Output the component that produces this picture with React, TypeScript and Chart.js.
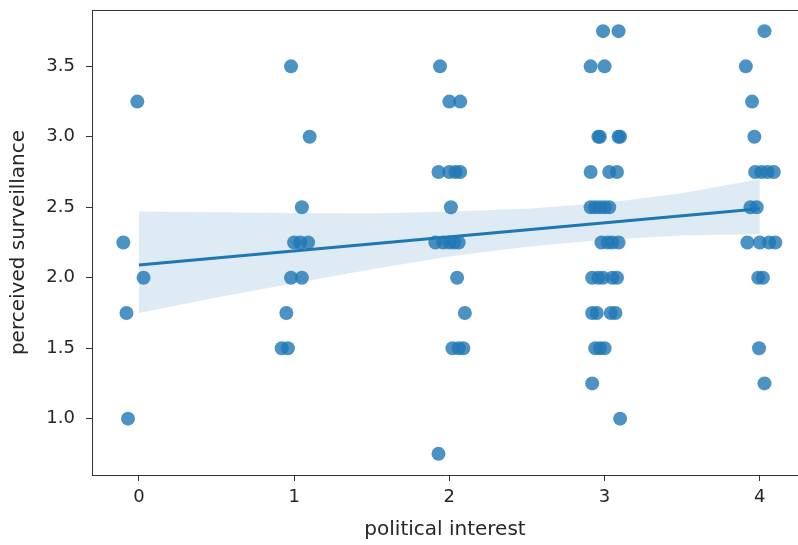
import React, { useEffect, useRef } from "react";
import { Chart, registerables } from "chart.js";

Chart.register(...registerables);

// Jittered political interest (x) and perceived surveillance (y) for each respondent
const pointX = [
  -0.01, -0.10, 0.03, -0.08, -0.07,
  0.98, 1.10, 1.05, 1.0, 1.04, 1.09, 0.98, 1.05, 0.95, 0.92, 0.96,
  1.94, 2.0, 2.07, 1.93, 2.0, 2.04, 2.07, 2.01, 1.91, 1.96, 2.0, 2.03, 2.06, 2.05, 2.10, 2.02, 2.06, 2.09, 1.93,
  2.99, 3.09, 2.91, 3.0, 2.96, 2.97, 3.09, 3.10, 2.91, 3.03, 3.08, 2.91, 2.94, 2.97, 3.0, 3.03, 2.98, 3.02, 3.05, 3.09,
  2.92, 2.96, 2.99, 3.05, 3.08, 2.92, 2.95, 3.04, 3.07, 2.94, 2.97, 3.0, 2.92, 3.10,
  4.03, 3.91, 3.95, 3.965, 3.97, 4.01, 4.05, 4.09, 3.94, 3.98, 3.92, 4.0, 4.06, 4.10, 3.99, 4.02, 3.995, 4.03,
];
const pointY = [
  3.25, 2.25, 2.0, 1.75, 1.0,
  3.5, 3.0, 2.5, 2.25, 2.25, 2.25, 2.0, 2.0, 1.75, 1.5, 1.5,
  3.5, 3.25, 3.25, 2.75, 2.75, 2.75, 2.75, 2.5, 2.25, 2.25, 2.25, 2.25, 2.25, 2.0, 1.75, 1.5, 1.5, 1.5, 0.75,
  3.75, 3.75, 3.5, 3.5, 3.0, 3.0, 3.0, 3.0, 2.75, 2.75, 2.75, 2.5, 2.5, 2.5, 2.5, 2.5, 2.25, 2.25, 2.25, 2.25,
  2.0, 2.0, 2.0, 2.0, 2.0, 1.75, 1.75, 1.75, 1.75, 1.5, 1.5, 1.5, 1.25, 1.0,
  3.75, 3.5, 3.25, 3.0, 2.75, 2.75, 2.75, 2.75, 2.5, 2.5, 2.25, 2.25, 2.25, 2.25, 2.0, 2.0, 1.5, 1.25,
];

// Regression line and its confidence band
const lineX = [0, 4];
const lineY = [2.09, 2.49];
const bandX = [0, 0.5, 1, 1.5, 2, 2.5, 3, 3.5, 4];
const bandLow = [1.75, 1.86, 1.96, 2.06, 2.15, 2.22, 2.27, 2.3, 2.31];
const bandHigh = [2.47, 2.465, 2.46, 2.455, 2.47, 2.49, 2.53, 2.6, 2.7];

// Axis ticks
const xTicks = [0, 1, 2, 3, 4];
const yTicks = [1.0, 1.5, 2.0, 2.5, 3.0, 3.5];

const xTitle = "political interest";
const yTitle = "perceived surveillance";

const FONT = "'DejaVu Sans', sans-serif";
const TEXT = "#262626";
const SPINE = "#333333";

const topSpine = {
  id: "topSpine",
  afterDraw(chart: any) {
    const { ctx, chartArea } = chart;
    ctx.save();
    ctx.strokeStyle = SPINE;
    ctx.lineWidth = 1;
    ctx.beginPath();
    ctx.moveTo(chartArea.left, chartArea.top + 0.5);
    ctx.lineTo(chartArea.right, chartArea.top + 0.5);
    ctx.stroke();
    ctx.restore();
  },
};

export default function App() {
  const ref = useRef<HTMLCanvasElement | null>(null);

  useEffect(() => {
    if (!ref.current) return;
    const chart = new Chart(ref.current, {
      type: "scatter",
      data: {
        datasets: [
          {
            label: "fit",
            data: lineX.map((x, i) => ({ x, y: lineY[i] })),
            showLine: true,
            borderColor: "#1f77b4",
            borderWidth: 3,
            pointRadius: 0,
            order: 0,
          },
          {
            label: "points",
            data: pointX.map((x, i) => ({ x, y: pointY[i] })),
            backgroundColor: "rgba(31,119,180,0.8)",
            borderWidth: 0,
            pointRadius: 7,
            order: 1,
          },
          {
            label: "ciHigh",
            data: bandX.map((x, i) => ({ x, y: bandHigh[i] })),
            showLine: true,
            borderWidth: 0,
            borderColor: "rgba(0,0,0,0)",
            pointRadius: 0,
            backgroundColor: "rgba(31,119,180,0.15)",
            fill: "+1",
            order: 2,
          },
          {
            label: "ciLow",
            data: bandX.map((x, i) => ({ x, y: bandLow[i] })),
            showLine: true,
            borderWidth: 0,
            borderColor: "rgba(0,0,0,0)",
            pointRadius: 0,
            fill: false,
            order: 3,
          },
        ],
      },
      options: {
        animation: false,
        responsive: false,
        maintainAspectRatio: false,
        layout: { autoPadding: false, padding: { top: 10, right: 0, left: 0, bottom: 0 } },
        plugins: { legend: { display: false }, tooltip: { enabled: false } },
        scales: {
          x: {
            type: "linear",
            min: -0.302,
            max: 4.246,
            afterFit: (s: any) => {
              s.height = 70;
              s.paddingLeft = 0;
              s.paddingRight = 0;
              s.paddingTop = 0;
              s.paddingBottom = 0;
            },
            afterBuildTicks: (s: any) => {
              s.ticks = xTicks.map((v) => ({ value: v }));
            },
            grid: {
              drawOnChartArea: false,
              drawTicks: true,
              tickLength: 6,
              tickColor: SPINE,
            },
            border: { color: SPINE, width: 1 },
            ticks: {
              color: TEXT,
              font: { family: FONT, size: 18 },
              padding: 6,
              callback: (v: any) => String(v),
            },
            title: {
              display: true,
              text: xTitle,
              color: TEXT,
              font: { family: FONT, size: 20 },
              padding: { top: 0, bottom: 3 },
            },
          },
          y: {
            type: "linear",
            min: 0.6,
            max: 3.9,
            afterFit: (s: any) => {
              s.width = 92;
              s.paddingLeft = 0;
              s.paddingRight = 0;
              s.paddingTop = 0;
              s.paddingBottom = 0;
            },
            afterBuildTicks: (s: any) => {
              s.ticks = yTicks.map((v) => ({ value: v }));
            },
            grid: {
              drawOnChartArea: false,
              drawTicks: true,
              tickLength: 6,
              tickColor: SPINE,
            },
            border: { color: SPINE, width: 1 },
            ticks: {
              color: TEXT,
              font: { family: FONT, size: 18 },
              padding: 11,
              callback: (v: any) => Number(v).toFixed(1),
            },
            title: {
              display: true,
              text: yTitle,
              color: TEXT,
              font: { family: FONT, size: 20 },
              padding: { top: 7, bottom: 0 },
            },
          },
        },
      },
      plugins: [topSpine],
    });
    return () => chart.destroy();
  }, []);

  return (
    <div style={{ position: "absolute", left: 0, top: 0, width: 798, height: 545, background: "#fff" }}>
      <canvas ref={ref} width={798} height={545} style={{ display: "block" }} />
    </div>
  );
}
